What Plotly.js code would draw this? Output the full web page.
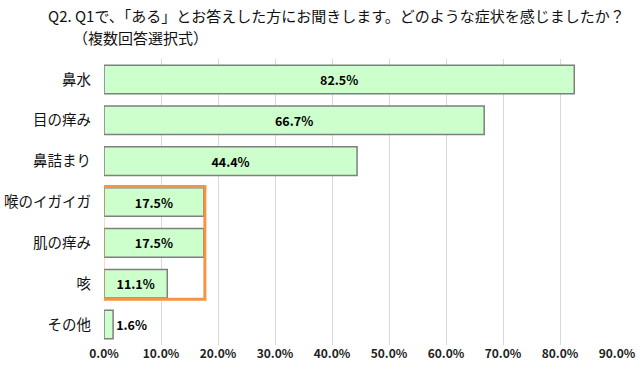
<!DOCTYPE html>
<html>
<head>
<meta charset="utf-8">
<script src="https://cdn.plot.ly/plotly-3.0.1.min.js"></script>
<style>html,body{margin:0;padding:0;background:#fff;}#chart{width:641px;height:377px;}</style>
</head>
<body>
<div id="chart"></div>
<script>
var categories = ["鼻水", "目の痒み", "鼻詰まり", "喉のイガイガ", "肌の痒み", "咳", "その他"];
var values = [82.5, 66.7, 44.4, 17.5, 17.5, 11.1, 1.6];
var tickValues = [0, 10, 20, 30, 40, 50, 60, 70, 80, 90];
var tickLabels = ["0.0%", "10.0%", "20.0%", "30.0%", "40.0%", "50.0%", "60.0%", "70.0%", "80.0%", "90.0%"];
var titleLine1 = "Q2. Q1で、「ある」とお答えした方にお聞きします。どのような症状を感じましたか？";
var titleLine2 = "（複数回答選択式）";
var highlightFrom = "喉のイガイガ";
var highlightTo = "咳";
var highlightMax = 17.7;

var FONT = "'Noto Sans CJK JP', 'Noto Sans', sans-serif";
var labels = values.map(function (v) { return v.toFixed(1) + "%"; });
var positions = values.map(function (v) { return v < 5 ? "outside" : "inside"; });

var trace = {
  type: "bar",
  orientation: "h",
  x: values,
  y: categories,
  text: labels,
  textposition: positions,
  insidetextanchor: "middle",
  constraintext: "none",
  cliponaxis: false,
  textfont: { family: FONT, size: 12.5, color: "#000", weight: "bold" },
  marker: { color: "#CCFFCC", line: { color: "#7F7F7F", width: 1.5 } },
  width: 0.7,
  hoverinfo: "none"
};

var i0 = categories.indexOf(highlightFrom);
var i1 = categories.indexOf(highlightTo);

var layout = {
  width: 641,
  height: 377,
  paper_bgcolor: "#fff",
  plot_bgcolor: "#fff",
  margin: { l: 104, r: 24, t: 59, b: 32 },
  showlegend: false,
  annotations: [
    {
      text: titleLine1, xref: "paper", yref: "paper",
      x: (46 - 104) / 513, y: 1 + (59 - 15) / 286, xanchor: "left", yanchor: "middle",
      showarrow: false, font: { family: FONT, size: 15, color: "#111" }
    },
    {
      text: titleLine2, xref: "paper", yref: "paper",
      x: (71 - 104) / 513, y: 1 + (59 - 37) / 286, xanchor: "left", yanchor: "middle",
      showarrow: false, font: { family: FONT, size: 15, color: "#111" }
    }
  ],
  xaxis: {
    range: [0, 90],
    tickvals: tickValues,
    ticktext: tickLabels,
    showgrid: true,
    gridcolor: "#D9D9D9",
    gridwidth: 1,
    zeroline: false,
    showline: false,
    ticks: "",
    tickfont: { family: FONT, size: 12, color: "#222", weight: "bold" },
    fixedrange: true
  },
  yaxis: {
    type: "category",
    autorange: "reversed",
    showgrid: false,
    zeroline: false,
    showline: false,
    ticks: "",
    ticklabelstandoff: 12,
    tickfont: { family: FONT, size: 14.5, color: "#111" },
    fixedrange: true
  },
  shapes: [{
    type: "rect",
    xref: "x",
    yref: "y",
    x0: -0.2,
    x1: highlightMax,
    y0: i0 - 0.38,
    y1: i1 + 0.38,
    line: { color: "#F39544", width: 3 },
    fillcolor: "rgba(0,0,0,0)",
    layer: "above"
  }]
};

Plotly.newPlot("chart", [trace], layout, { displayModeBar: false, staticPlot: true });
</script>
</body>
</html>
